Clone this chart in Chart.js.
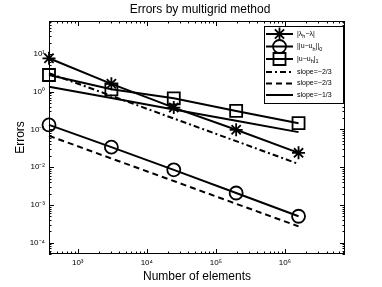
<!DOCTYPE html>
<html>
<head>
  <script src="https://cdn.jsdelivr.net/npm/chart.js@4.4.0/dist/chart.umd.min.js"></script>
  <title>Errors by multigrid method</title>
  <style>
    html, body { margin: 0; padding: 0; background: #fff; }
    #wrap { width: 382px; height: 287px; }
  </style>
</head>
<body>
  <div id="wrap"><canvas id="errChart" width="382" height="287"></canvas></div>
  <script>
    // number of elements (each refinement x8)
    const elements = [384, 3072, 24576, 196608, 1572864];
    // measured errors
    const eigErr = [7.7, 1.62, 0.38, 0.098, 0.024];
    const l2Err = [0.132, 0.034, 0.0085, 0.00207, 0.0005];
    const h1Err = [2.78, 1.16, 0.67, 0.31, 0.147];
    // reference slope lines
    const slopeDashDot = [3.1, 0.78, 0.195, 0.049, 0.0122];
    const slopeDashed = [0.068, 0.017, 0.0043, 0.00107, 0.00027];
    const slopeSolid = [1.36, 0.68, 0.34, 0.17, 0.085];
    // tick labels (exponents of 10)
    const xTickExp = [3, 4, 5, 6];
    const yTickExp = [-4, -3, -2, -1, 0, 1];

    const FONT = "'Liberation Sans', Arial, Helvetica, sans-serif";
    const sup = { "0": "\u2070", "1": "\u00b9", "2": "\u00b2", "3": "\u00b3", "4": "\u2074",
                  "5": "\u2075", "6": "\u2076", "7": "\u2077", "8": "\u2078", "9": "\u2079", "-": "\u207b" };
    function pow10Label(v) {
      const e = Math.round(Math.log10(v));
      return "10" + String(e).split("").map(c => sup[c]).join("");
    }
    function pts(arr) {
      return elements.map((x, i) => ({ x: x, y: arr[i] }));
    }

    function series(label, arr, style, radius) {
      return {
        label: label, data: pts(arr), borderColor: "#000", borderWidth: 2,
        pointStyle: style, pointRadius: radius, pointBorderWidth: 1.8,
        pointBorderColor: "#000", pointBackgroundColor: "rgba(0,0,0,0)",
        fill: false, tension: 0, clip: false
      };
    }
    function refLine(label, arr, dash) {
      return {
        label: label, data: pts(arr), borderColor: "#000", borderWidth: 2,
        borderDash: dash, pointRadius: 0, fill: false, tension: 0, clip: false
      };
    }

    // MATLAB like box, inward ticks, title and legend
    const framePlugin = {
      id: "frame",
      afterDraw(chart) {
        const ctx = chart.ctx;
        const a = chart.chartArea;
        const xs = chart.scales.x, ys = chart.scales.y;
        ctx.save();
        ctx.strokeStyle = "#000";
        ctx.lineWidth = 1;
        ctx.strokeRect(a.left + 0.5, a.top + 0.5, a.right - a.left - 1, a.bottom - a.top - 1);

        // ticks
        ctx.beginPath();
        for (let d = 2; d <= 7; d++) {
          for (let k = 1; k <= 9; k++) {
            const v = k * Math.pow(10, d);
            if (v < xs.min || v > xs.max) continue;
            const px = Math.round(xs.getPixelForValue(v)) + 0.5;
            const len = k === 1 ? 5 : 2.5;
            ctx.moveTo(px, a.bottom); ctx.lineTo(px, a.bottom - len);
            ctx.moveTo(px, a.top); ctx.lineTo(px, a.top + len);
          }
        }
        for (let d = -5; d <= 2; d++) {
          for (let k = 1; k <= 9; k++) {
            const v = k * Math.pow(10, d);
            if (v < ys.min || v > ys.max) continue;
            const py = Math.round(ys.getPixelForValue(v)) + 0.5;
            const len = k === 1 ? 5 : 2.5;
            ctx.moveTo(a.left, py); ctx.lineTo(a.left + len, py);
            ctx.moveTo(a.right, py); ctx.lineTo(a.right - len, py);
          }
        }
        ctx.stroke();

        // title
        ctx.fillStyle = "#000";
        ctx.font = "12px " + FONT;
        ctx.textAlign = "center";
        ctx.textBaseline = "middle";
        ctx.fillText("Errors by multigrid method", 200, 10);

        // legend
        const lx = 264, ly = 26, lw = 79, lh = 77;
        ctx.fillStyle = "#fff";
        ctx.fillRect(lx, ly, lw, lh);
        ctx.strokeRect(lx + 0.5, ly + 0.5, lw, lh);
        const rows = [
          { ds: 0, text: [["|\u03bb", 0], ["h", 1], ["\u2212\u03bb|", 0]] },
          { ds: 1, text: [["||u\u2212u", 0], ["h", 1], ["||", 0], ["0", 1]] },
          { ds: 2, text: [["|u\u2212u", 0], ["h", 1], ["|", 0], ["1", 1]] },
          { ds: 3, text: [["slope=\u22122/3", 0]] },
          { ds: 4, text: [["slope=\u22122/3", 0]] },
          { ds: 5, text: [["slope=\u22121/3", 0]] }
        ];
        const rowY = [34, 46.5, 59, 72, 83.5, 95];
        rows.forEach((r, i) => {
          const ds = chart.data.datasets[r.ds];
          const y = rowY[i];
          ctx.save();
          ctx.strokeStyle = "#000";
          ctx.lineWidth = 2;
          ctx.setLineDash(ds.borderDash || []);
          ctx.beginPath();
          ctx.moveTo(266, y); ctx.lineTo(293, y);
          ctx.stroke();
          ctx.restore();
          if (ds.pointRadius > 0) {
            ctx.save();
            ctx.strokeStyle = "#000";
            ctx.fillStyle = "rgba(0,0,0,0)";
            ctx.lineWidth = 1.8;
            Chart.helpers.drawPoint(ctx, {
              pointStyle: ds.pointStyle, radius: ds.pointRadius, borderWidth: 1.8
            }, 279.5, y);
            ctx.restore();
          }
          let tx = 297;
          ctx.fillStyle = "#000";
          ctx.textAlign = "left";
          r.text.forEach(([s, isSub]) => {
            ctx.font = (isSub ? "5.5px " : "7px ") + FONT;
            ctx.fillText(s, tx, isSub ? y + 2.5 : y);
            tx += ctx.measureText(s).width;
          });
        });
        ctx.restore();
      }
    };

    const ctx = document.getElementById("errChart").getContext("2d");
    const chart = new Chart(ctx, {
      type: "line",
      data: {
        datasets: [
          series("|λh-λ|", eigErr, "star", 6.5),
          series("||u-uh||0", l2Err, "circle", 6.5),
          series("|u-uh|1", h1Err, "rect", 8.5),
          refLine("slope=-2/3", slopeDashDot, [6, 3, 2, 3]),
          refLine("slope=-2/3", slopeDashed, [6, 4]),
          refLine("slope=-1/3", slopeSolid, [])
        ]
      },
      options: {
        responsive: false,
        animation: false,
        events: [],
        layout: { padding: { top: 21, right: 37, left: 0, bottom: 0 } },
        plugins: {
          legend: { display: false },
          tooltip: { enabled: false },
          title: { display: false }
        },
        scales: {
          x: {
            type: "logarithmic",
            min: 384,
            max: 7.4e6,
            afterBuildTicks: s => { s.ticks = xTickExp.map(e => ({ value: Math.pow(10, e) })); },
            afterFit: s => { s.height = 33; },
            grid: { display: false, drawTicks: false },
            border: { display: false },
            ticks: {
              autoSkip: false, maxRotation: 0, padding: 4, color: "#000",
              font: { family: FONT, size: 8 },
              callback: v => pow10Label(v)
            },
            title: {
              display: true, text: "Number of elements", color: "#000",
              font: { family: FONT, size: 12 }, padding: { top: 0, bottom: 3 }
            }
          },
          y: {
            type: "logarithmic",
            min: 5e-5,
            max: 75,
            afterBuildTicks: s => { s.ticks = yTickExp.map(e => ({ value: Math.pow(10, e) })); },
            afterFit: s => { s.width = 49; },
            grid: { display: false, drawTicks: false },
            border: { display: false },
            ticks: {
              autoSkip: false, padding: 4, color: "#000",
              font: { family: FONT, size: 8 },
              callback: v => pow10Label(v)
            },
            title: {
              display: true, text: "Errors", color: "#000",
              font: { family: FONT, size: 12 }, padding: { top: 13, bottom: 0 }
            }
          }
        }
      },
      plugins: [framePlugin]
    });
  </script>
</body>
</html>
